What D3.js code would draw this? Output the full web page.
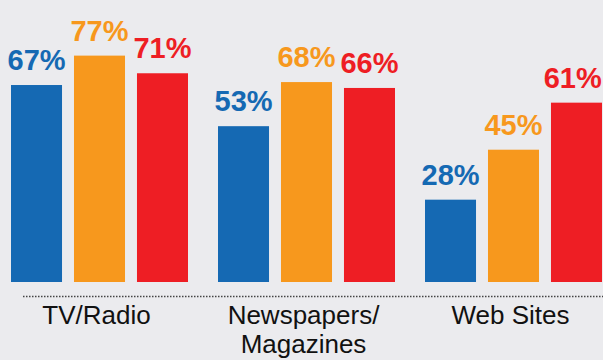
<!DOCTYPE html>
<html>
<head>
<meta charset="utf-8">
<script src="https://cdn.jsdelivr.net/npm/d3@7"></script>
<style>
  html, body { margin: 0; padding: 0; background: #ebebee; }
  svg { display: block; font-family: "Liberation Sans", Arial, Helvetica, sans-serif; }
</style>
</head>
<body>
<div id="chart"></div>
<script>
// chart values
var categories = ["TV/Radio", "Newspapers/\nMagazines", "Web Sites"];
var series = ["s1", "s2", "s3"];
var seriesColors = ["#1569b3", "#f7981d", "#ee1e24"];
var values = [
  [67, 77, 71],
  [53, 68, 66],
  [28, 45, 61]
];

var W = 603, H = 360;

var svg = d3.select("#chart").append("svg")
    .attr("width", W).attr("height", H);

var x0 = d3.scaleBand().domain(categories).range([11, 602]).paddingInner(30 / 207).paddingOuter(0);
var x1 = d3.scaleBand().domain(series).range([0, x0.bandwidth()]).paddingInner(0.19).paddingOuter(0);
var y = d3.scaleLinear().domain([0, 100]).range([282, -12]);
var color = d3.scaleOrdinal().domain(series).range(seriesColors);

var groups = svg.selectAll("g.grp")
    .data(categories)
    .enter().append("g")
    .attr("class", "grp")
    .attr("transform", function(d) { return "translate(" + x0(d) + ",0)"; });

groups.selectAll("rect")
    .data(function(d, i) { return series.map(function(s, j) { return {s: s, v: values[i][j]}; }); })
    .enter().append("rect")
    .attr("x", function(d) { return x1(d.s); })
    .attr("y", function(d) { return y(d.v); })
    .attr("width", x1.bandwidth())
    .attr("height", function(d) { return y(0) - y(d.v); })
    .attr("fill", function(d) { return color(d.s); });

groups.selectAll("text.val")
    .data(function(d, i) { return series.map(function(s, j) { return {s: s, v: values[i][j], gx: x0(d)}; }); })
    .enter().append("text")
    .attr("class", "val")
    .attr("x", function(d) { return x1(d.s) + x1.bandwidth() / 2; })
    .attr("y", function(d) { return y(d.v) - 15; })
    .attr("text-anchor", "middle")
    .attr("font-size", 29)
    .attr("font-weight", "bold")
    .attr("fill", function(d) { return color(d.s); })
    .text(function(d) { return d.v + "%"; })
    .each(function(d) {
        // keep labels inside the right edge
        var b = this.getBBox();
        var over = d.gx + b.x + b.width - (W - 1);
        if (over > 0) d3.select(this).attr("x", +d3.select(this).attr("x") - over);
    });

// dotted baseline
svg.append("line")
    .attr("x1", 23).attr("x2", W)
    .attr("y1", 296.5).attr("y2", 296.5)
    .attr("stroke", "#444")
    .attr("stroke-width", 1.6)
    .attr("stroke-dasharray", "1.5,1.5");

// category labels
var labels = svg.selectAll("text.cat")
    .data(categories)
    .enter().append("text")
    .attr("class", "cat")
    .attr("text-anchor", "middle")
    .attr("font-size", 26)
    .attr("fill", "#111");

labels.each(function(d) {
    var t = d3.select(this);
    d.split("\n").forEach(function(line, k) {
        t.append("tspan")
            .attr("x", x0(d) + x0.bandwidth() / 2 - 3)
            .attr("y", 324 + k * 29)
            .text(line);
    });
});
</script>
</body>
</html>
